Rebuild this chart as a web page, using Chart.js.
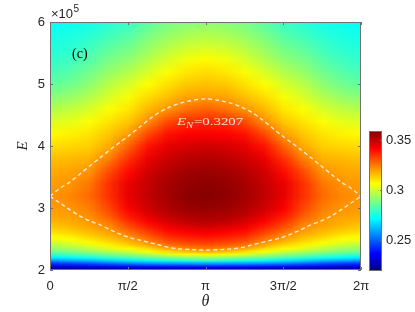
<!DOCTYPE html>
<html>
<head>
<meta charset="utf-8">
<script src="https://cdn.jsdelivr.net/npm/chart.js@4.4.1/dist/chart.umd.min.js"></script>
<style>
  body { margin: 0; background: #fff; }
  #wrap { position: relative; width: 415px; height: 312px; }
  #wrap canvas { position: absolute; left: 0; top: 0; }
</style>
</head>
<body>
<div id="wrap">
  <canvas id="mapChart" width="415" height="312"></canvas>
  <canvas id="barChart" width="415" height="312"></canvas>
</div>
<script>
// theta grid (rad) and energy grid (x10^5)
const thetaGrid = [0, 0.393, 0.785, 1.178, 1.571, 1.963, 2.356, 2.749, 3.142, 3.534, 3.927, 4.320, 4.712, 5.105, 5.498, 5.890, 6.283];
const energyGrid = [2.00, 2.05, 2.10, 2.15, 2.20, 2.25, 2.30, 2.35, 2.40, 2.45, 2.50, 2.55, 2.60, 2.65, 2.70, 2.75, 2.80, 2.85, 2.90, 2.95, 3.00,
                    3.2, 3.4, 3.6, 3.8, 4.0, 4.2, 4.4, 4.6, 4.8, 5.0, 5.2, 5.4, 5.6, 5.8, 6.0];

// E_N, one row per energy, one column per theta
const enGrid = [
  [0.222,0.222,0.222,0.222,0.222,0.222,0.222,0.222,0.222,0.222,0.222,0.222,0.222,0.222,0.222,0.222,0.222],
  [0.229,0.230,0.232,0.233,0.235,0.2355,0.236,0.2365,0.237,0.2365,0.236,0.2355,0.235,0.233,0.232,0.230,0.229],
  [0.242,0.244,0.246,0.249,0.252,0.254,0.256,0.2565,0.257,0.2565,0.256,0.254,0.252,0.249,0.246,0.244,0.242],
  [0.256,0.258,0.261,0.265,0.268,0.271,0.2735,0.2755,0.277,0.2755,0.2735,0.271,0.268,0.265,0.261,0.258,0.256],
  [0.269,0.271,0.274,0.278,0.281,0.285,0.288,0.291,0.293,0.291,0.288,0.285,0.281,0.278,0.274,0.271,0.269],
  [0.279,0.281,0.284,0.288,0.291,0.296,0.3015,0.305,0.3075,0.305,0.3015,0.296,0.291,0.288,0.284,0.281,0.279],
  [0.287,0.289,0.292,0.296,0.300,0.305,0.311,0.3155,0.318,0.3155,0.311,0.305,0.300,0.296,0.292,0.289,0.287],
  [0.292,0.294,0.298,0.303,0.307,0.312,0.3195,0.323,0.325,0.323,0.3195,0.312,0.307,0.303,0.298,0.294,0.292],
  [0.297,0.299,0.303,0.308,0.312,0.318,0.325,0.3285,0.330,0.3285,0.325,0.318,0.312,0.308,0.303,0.299,0.297],
  [0.301,0.303,0.307,0.311,0.316,0.322,0.3295,0.3325,0.334,0.3325,0.3295,0.322,0.316,0.311,0.307,0.303,0.301],
  [0.305,0.306,0.310,0.314,0.3195,0.326,0.333,0.3355,0.337,0.3355,0.333,0.326,0.3195,0.314,0.310,0.306,0.305],
  [0.307,0.309,0.313,0.3165,0.322,0.329,0.336,0.3385,0.340,0.3385,0.336,0.329,0.322,0.3165,0.313,0.309,0.307],
  [0.310,0.312,0.315,0.319,0.325,0.332,0.3385,0.341,0.3425,0.341,0.3385,0.332,0.325,0.319,0.315,0.312,0.310],
  [0.312,0.314,0.317,0.3205,0.328,0.335,0.341,0.3435,0.345,0.3435,0.341,0.335,0.328,0.3205,0.317,0.314,0.312],
  [0.314,0.316,0.319,0.322,0.331,0.3375,0.3435,0.346,0.348,0.346,0.3435,0.3375,0.331,0.322,0.319,0.316,0.314],
  [0.315,0.3175,0.320,0.324,0.333,0.340,0.3455,0.3485,0.350,0.3485,0.3455,0.340,0.333,0.324,0.320,0.3175,0.315],
  [0.317,0.318,0.3205,0.326,0.3355,0.342,0.3475,0.3505,0.352,0.3505,0.3475,0.342,0.3355,0.326,0.3205,0.318,0.317],
  [0.318,0.319,0.3215,0.328,0.3375,0.344,0.349,0.352,0.353,0.352,0.349,0.344,0.3375,0.328,0.3215,0.319,0.318],
  [0.319,0.320,0.3225,0.3295,0.339,0.3455,0.3505,0.353,0.354,0.353,0.3505,0.3455,0.339,0.3295,0.3225,0.320,0.319],
  [0.3195,0.3205,0.3235,0.331,0.3405,0.347,0.3515,0.354,0.355,0.354,0.3515,0.347,0.3405,0.331,0.3235,0.3205,0.3195],
  [0.320,0.321,0.324,0.332,0.342,0.348,0.3525,0.355,0.356,0.355,0.3525,0.348,0.342,0.332,0.324,0.321,0.320],
  [0.321,0.323,0.327,0.335,0.3445,0.350,0.354,0.357,0.358,0.357,0.354,0.350,0.3445,0.335,0.327,0.323,0.321],
  [0.320,0.321,0.325,0.335,0.344,0.3495,0.3535,0.356,0.357,0.356,0.3535,0.3495,0.344,0.335,0.325,0.321,0.320],
  [0.318,0.319,0.321,0.331,0.340,0.3475,0.3515,0.354,0.355,0.354,0.3515,0.3475,0.340,0.331,0.321,0.319,0.318],
  [0.315,0.316,0.317,0.324,0.335,0.344,0.3485,0.351,0.352,0.351,0.3485,0.344,0.335,0.324,0.317,0.316,0.315],
  [0.311,0.312,0.313,0.318,0.328,0.339,0.3445,0.347,0.348,0.347,0.3445,0.339,0.328,0.318,0.313,0.312,0.311],
  [0.307,0.308,0.310,0.314,0.320,0.3315,0.339,0.3415,0.342,0.3415,0.339,0.3315,0.320,0.314,0.310,0.308,0.307],
  [0.302,0.303,0.306,0.310,0.314,0.322,0.331,0.335,0.336,0.335,0.331,0.322,0.314,0.310,0.306,0.303,0.302],
  [0.296,0.298,0.301,0.306,0.3095,0.316,0.321,0.326,0.328,0.326,0.321,0.316,0.3095,0.306,0.301,0.298,0.296],
  [0.290,0.292,0.296,0.301,0.3055,0.311,0.315,0.319,0.3195,0.319,0.315,0.311,0.3055,0.301,0.296,0.292,0.290],
  [0.285,0.287,0.291,0.297,0.301,0.3065,0.3105,0.314,0.315,0.314,0.3105,0.3065,0.301,0.297,0.291,0.287,0.285],
  [0.281,0.283,0.287,0.292,0.296,0.301,0.306,0.3095,0.311,0.3095,0.306,0.301,0.296,0.292,0.287,0.283,0.281],
  [0.278,0.280,0.283,0.288,0.291,0.296,0.301,0.305,0.307,0.305,0.301,0.296,0.291,0.288,0.283,0.280,0.278],
  [0.276,0.277,0.280,0.284,0.287,0.292,0.2965,0.2995,0.301,0.2995,0.2965,0.292,0.287,0.284,0.280,0.277,0.276],
  [0.274,0.275,0.277,0.280,0.283,0.288,0.292,0.2945,0.296,0.2945,0.292,0.288,0.283,0.280,0.277,0.275,0.274],
  [0.272,0.273,0.274,0.277,0.279,0.284,0.288,0.290,0.291,0.290,0.288,0.284,0.279,0.277,0.274,0.273,0.272]
];

// dashed contour E_N = 0.3207
const contourTheta = [0, 0.202, 0.404, 0.606, 0.808, 1.010, 1.212, 1.414, 1.616, 1.818, 2.020, 2.222, 2.424, 2.626, 2.828, 3.142,
                      3.455, 3.657, 3.859, 4.061, 4.263, 4.465, 4.667, 4.869, 5.071, 5.273, 5.475, 5.677, 5.879, 6.081, 6.283];
const contourUpper = [3.19, 3.32, 3.42, 3.55, 3.68, 3.81, 3.94, 4.06, 4.18, 4.31, 4.44, 4.55, 4.63, 4.69, 4.73, 4.76,
                      4.73, 4.69, 4.63, 4.55, 4.44, 4.31, 4.18, 4.06, 3.94, 3.81, 3.68, 3.55, 3.42, 3.32, 3.19];
const contourLower = [3.19, 3.08, 2.97, 2.87, 2.79, 2.73, 2.65, 2.58, 2.52, 2.48, 2.44, 2.40, 2.36, 2.34, 2.33, 2.32,
                      2.33, 2.34, 2.36, 2.40, 2.44, 2.48, 2.52, 2.58, 2.65, 2.73, 2.79, 2.87, 2.97, 3.08, 3.19];

const xTickValues = [0, Math.PI / 2, Math.PI, 3 * Math.PI / 2, 2 * Math.PI];
const xTickLabels = ['0', 'π/2', 'π', '3π/2', '2π'];
const yTickValues = [2, 3, 4, 5, 6];
const cbarTickValues = [0.25, 0.30, 0.35];
const cbarMin = 0.219, cbarMax = 0.359;

const axisColor = '#262626';
const boxColor = '#707070';

function clamp01(v) { return Math.max(0, Math.min(1, v)); }
function jetRGB(v) {
    const t = clamp01((v - cbarMin) / (cbarMax - cbarMin));
    return [
        Math.round(clamp01(1.5 - Math.abs(4 * t - 3)) * 255),
        Math.round(clamp01(1.5 - Math.abs(4 * t - 2)) * 255),
        Math.round(clamp01(1.5 - Math.abs(4 * t - 1)) * 255)
    ];
}
function jet(v) { return 'rgb(' + jetRGB(v).join(',') + ')'; }

// one evenly spaced block of grid rows, painted with interpolated shading
function drawBand(chart, i0, i1) {
    const { ctx, scales: { x, y } } = chart;
    const nCols = thetaGrid.length, nRows = i1 - i0 + 1;
    const off = document.createElement('canvas');
    off.width = nCols;
    off.height = nRows;
    const octx = off.getContext('2d');
    const img = octx.createImageData(nCols, nRows);
    for (let r = 0; r < nRows; r++) {
        const i = i1 - r;
        for (let j = 0; j < nCols; j++) {
            const c = jetRGB(enGrid[i][j]);
            const k = (r * nCols + j) * 4;
            img.data[k] = c[0]; img.data[k + 1] = c[1]; img.data[k + 2] = c[2]; img.data[k + 3] = 255;
        }
    }
    octx.putImageData(img, 0, 0);
    const x0 = x.getPixelForValue(thetaGrid[0]);
    const x1 = x.getPixelForValue(thetaGrid[nCols - 1]);
    const yTop = y.getPixelForValue(energyGrid[i1]);
    const yBot = y.getPixelForValue(energyGrid[i0]);
    const cw = (x1 - x0) / (nCols - 1);
    const ch = (yBot - yTop) / (nRows - 1);
    ctx.save();
    ctx.beginPath();
    ctx.rect(Math.round(x0), Math.round(yTop), Math.round(x1) - Math.round(x0), Math.round(yBot) - Math.round(yTop));
    ctx.clip();
    ctx.imageSmoothingEnabled = true;
    ctx.imageSmoothingQuality = 'low';
    ctx.drawImage(off, x0 - cw / 2, yTop - ch / 2, cw * nCols, ch * nRows);
    ctx.restore();
}

const heatmapPlugin = {
    id: 'heatmap',
    beforeDatasetsDraw(chart) {
        const split = energyGrid.indexOf(3.0);
        drawBand(chart, 0, split);
        drawBand(chart, split, energyGrid.length - 1);
    }
};

// box, inward ticks and the extra texts
const framePlugin = {
    id: 'frame',
    afterDraw(chart) {
        const { ctx, chartArea: a, scales: { x, y } } = chart;
        ctx.save();
        ctx.strokeStyle = boxColor;
        ctx.lineWidth = 1;
        ctx.beginPath();
        xTickValues.forEach(function(v) {
            const px = Math.round(x.getPixelForValue(v)) + 0.5;
            ctx.moveTo(px, a.bottom); ctx.lineTo(px, a.bottom - 3);
            ctx.moveTo(px, a.top); ctx.lineTo(px, a.top + 3);
        });
        yTickValues.forEach(function(v) {
            const py = Math.round(y.getPixelForValue(v)) + 0.5;
            ctx.moveTo(a.left, py); ctx.lineTo(a.left + 3, py);
            ctx.moveTo(a.right, py); ctx.lineTo(a.right - 3, py);
        });
        ctx.stroke();
        ctx.strokeRect(a.left + 0.5, a.top + 0.5, a.width - 1, a.height - 1);

        // E_N label
        ctx.fillStyle = 'rgba(255,255,255,0.85)';
        ctx.save();
        ctx.translate(177, 125);
        ctx.scale(1.35, 1);
        ctx.font = 'italic 11px "Liberation Serif"';
        ctx.fillText('E', 0, 0);
        let w = ctx.measureText('E').width;
        ctx.font = 'italic 8px "Liberation Serif"';
        ctx.fillText('N', w, 2.5);
        w += ctx.measureText('N').width + 0.5;
        ctx.font = '11px "Liberation Serif"';
        ctx.fillText('=0.3207', w, 0);
        ctx.restore();

        // panel tag
        ctx.fillStyle = '#000';
        ctx.font = '14px "Liberation Serif"';
        ctx.fillText('(c)', 72, 58);

        // exponent
        ctx.fillStyle = axisColor;
        ctx.font = '13px "Liberation Sans"';
        ctx.fillText('×10', 51, 18);
        const ew = ctx.measureText('×10').width;
        ctx.font = '10px "Liberation Sans"';
        ctx.fillText('5', 51 + ew + 0.5, 12);

        // axis titles
        ctx.font = 'italic 16px "Liberation Serif"';
        ctx.textAlign = 'center';
        ctx.fillText('θ', (a.left + a.right) / 2, 306);
        ctx.save();
        ctx.translate(27, (a.top + a.bottom) / 2);
        ctx.rotate(-Math.PI / 2);
        ctx.font = 'italic 15px "Liberation Serif"';
        ctx.fillText('E', 0, 0);
        ctx.restore();
        ctx.restore();
    }
};

const tickFont = { family: 'Liberation Sans', size: 13 };

const ctxMap = document.getElementById('mapChart').getContext('2d');
const mapChart = new Chart(ctxMap, {
    type: 'line',
    data: {
        datasets: [
            { data: contourTheta.map((t, i) => ({ x: t, y: contourUpper[i] })) },
            { data: contourTheta.map((t, i) => ({ x: t, y: contourLower[i] })) }
        ].map(function(ds) {
            return Object.assign(ds, {
                borderColor: 'rgba(255,255,255,0.85)',
                borderWidth: 1.3,
                borderDash: [4, 3],
                pointRadius: 0,
                tension: 0.3,
                fill: false
            });
        })
    },
    options: {
        responsive: false,
        animation: false,
        layout: { padding: { left: 0, right: 54, top: 22, bottom: 0 } },
        scales: {
            x: {
                type: 'linear',
                min: 0,
                max: 2 * Math.PI,
                afterBuildTicks: function(scale) { scale.ticks = xTickValues.map(v => ({ value: v })); },
                afterFit: function(scale) { scale.height = 42; },
                grid: { display: false, drawTicks: false },
                border: { display: false },
                ticks: {
                    color: axisColor,
                    font: tickFont,
                    padding: 9,
                    maxRotation: 0,
                    callback: function(v, i) { return xTickLabels[i]; }
                }
            },
            y: {
                type: 'linear',
                min: 2,
                max: 6,
                afterBuildTicks: function(scale) { scale.ticks = yTickValues.map(v => ({ value: v })); },
                afterFit: function(scale) { scale.width = 50; },
                grid: { display: false, drawTicks: false },
                border: { display: false },
                ticks: { color: axisColor, font: tickFont, padding: 5 }
            }
        },
        plugins: { legend: { display: false }, tooltip: { enabled: false } }
    },
    plugins: [heatmapPlugin, framePlugin]
});

// colour bar
const colorbarPlugin = {
    id: 'colorbar',
    beforeDatasetsDraw(chart) {
        const { ctx, chartArea: a, scales: { y } } = chart;
        const yLo = y.getPixelForValue(cbarMin);
        const yHi = y.getPixelForValue(cbarMax);
        const grad = ctx.createLinearGradient(0, yLo, 0, yHi);
        [0, 0.125, 0.375, 0.625, 0.875, 1].forEach(function(t) {
            grad.addColorStop(t, jet(cbarMin + t * (cbarMax - cbarMin)));
        });
        ctx.save();
        ctx.fillStyle = grad;
        ctx.fillRect(a.left, a.top, a.width, a.height);
        ctx.strokeStyle = boxColor;
        ctx.lineWidth = 1;
        ctx.beginPath();
        cbarTickValues.forEach(function(v) {
            const py = Math.round(y.getPixelForValue(v)) + 0.5;
            ctx.moveTo(a.right, py); ctx.lineTo(a.right - 2, py);
        });
        ctx.stroke();
        ctx.strokeRect(a.left + 0.5, a.top + 0.5, a.width - 1, a.height - 1);
        ctx.restore();
    }
};

const ctxBar = document.getElementById('barChart').getContext('2d');
const barChart = new Chart(ctxBar, {
    type: 'scatter',
    data: { datasets: [{ data: [] }] },
    options: {
        responsive: false,
        animation: false,
        layout: { padding: { left: 369, right: 0, top: 131, bottom: 41 } },
        scales: {
            x: { display: false, min: 0, max: 1 },
            y: {
                position: 'right',
                min: cbarMin,
                max: cbarMax,
                afterBuildTicks: function(scale) { scale.ticks = cbarTickValues.map(v => ({ value: v })); },
                afterFit: function(scale) { scale.width = 33; },
                grid: { display: false, drawTicks: false },
                border: { display: false },
                ticks: {
                    color: axisColor,
                    font: tickFont,
                    padding: 4,
                    callback: function(v) { return String(Math.round(v * 100) / 100); }
                }
            }
        },
        plugins: { legend: { display: false }, tooltip: { enabled: false } }
    },
    plugins: [colorbarPlugin]
});
</script>
</body>
</html>
